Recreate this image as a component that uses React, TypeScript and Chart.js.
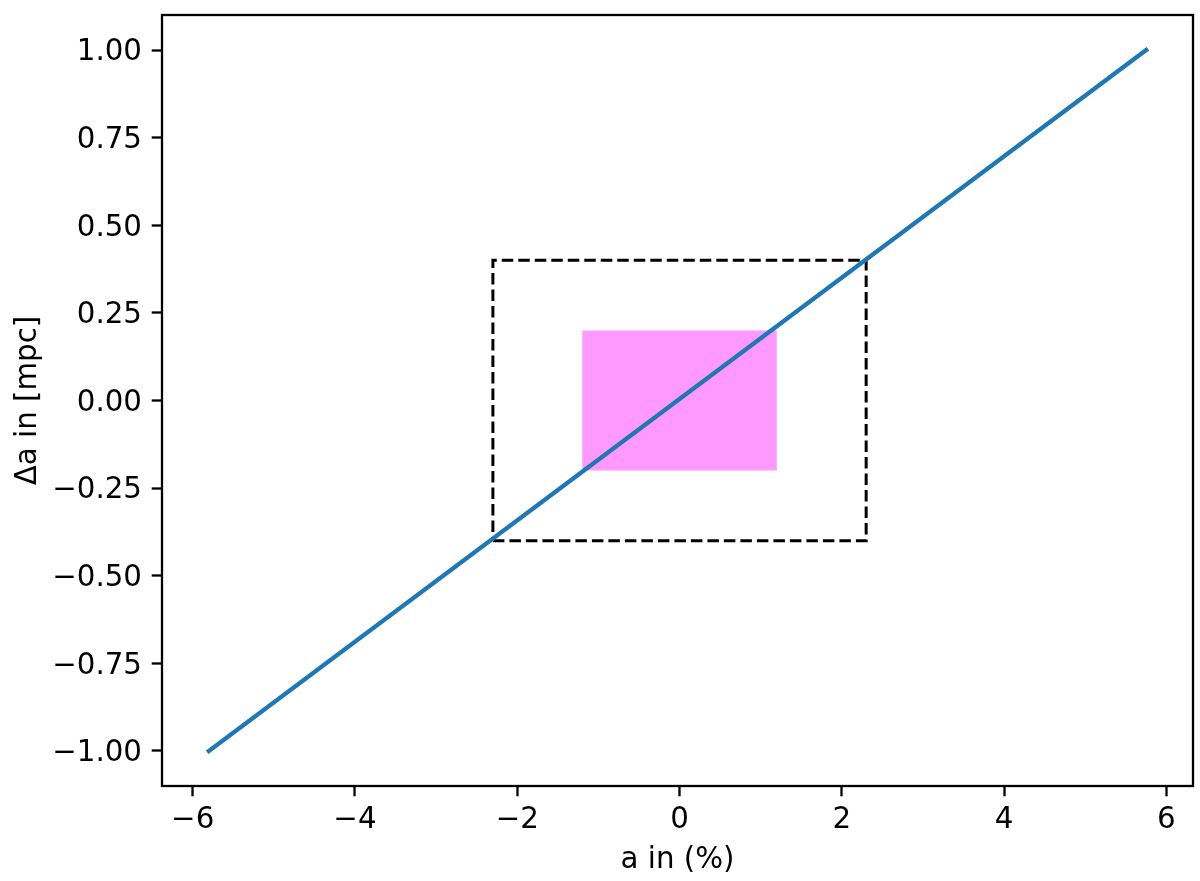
import React, { useEffect, useRef } from "react";
import { Chart, registerables } from "chart.js";

Chart.register(...registerables);

// ---- data ----
const xTicks = [-6, -4, -2, 0, 2, 4, 6];
const xTickLabels = ["−6", "−4", "−2", "0", "2", "4", "6"];
const yTicks = [-1, -0.75, -0.5, -0.25, 0, 0.25, 0.5, 0.75, 1];
const yTickLabels = ["−1.00", "−0.75", "−0.50", "−0.25", "0.00", "0.25", "0.50", "0.75", "1.00"];

const lineX = [-5.8, 5.75];
const lineY = [-1, 1];

const outerBoxX = [-2.3, 2.3, 2.3, -2.3, -2.3];
const outerBoxY = [-0.4, -0.4, 0.4, 0.4, -0.4];

const innerBoxX = [-1.2, 1.2];
const innerBoxTop = [0.2, 0.2];
const innerBoxBottom = -0.2;

const xRange = [-6.378, 6.328];
const yRange = [-1.1, 1.1];

const xTitle = "a in (%)";
const yTitle = "Δa in [mpc]";

const FONT = "'DejaVu Sans', sans-serif";
const FS = 29.3;

const spinesPlugin = {
  id: "spines",
  afterDraw(chart: any) {
    const { ctx, chartArea } = chart;
    ctx.save();
    ctx.strokeStyle = "#000";
    ctx.lineWidth = 2.3;
    ctx.strokeRect(chartArea.left, chartArea.top, chartArea.right - chartArea.left, chartArea.bottom - chartArea.top);
    ctx.restore();
  },
};

const zip = (xs: number[], ys: number[]) => xs.map((x, i) => ({ x, y: ys[i] }));

export default function App() {
  const ref = useRef<HTMLCanvasElement | null>(null);
  useEffect(() => {
    if (!ref.current) return;
    const chart = new Chart(ref.current, {
      type: "scatter",
      data: {
        datasets: [
          {
            data: zip(lineX, lineY),
            showLine: true,
            borderColor: "#1f77b4",
            borderWidth: 4.4,
            borderCapStyle: "square",
            pointRadius: 0,
            fill: false,
            order: 0,
          },
          {
            data: zip(outerBoxX, outerBoxY),
            showLine: true,
            borderColor: "#000000",
            borderWidth: 3,
            borderDash: [11.5, 5],
            pointRadius: 0,
            fill: false,
            order: 1,
          },
          {
            data: zip(innerBoxX, innerBoxTop),
            showLine: true,
            borderColor: "rgba(0,0,0,0)",
            borderWidth: 0,
            backgroundColor: "rgba(255,0,255,0.4)",
            fill: { value: innerBoxBottom },
            pointRadius: 0,
            order: 2,
          },
        ] as any,
      },
      options: {
        animation: false,
        responsive: false,
        maintainAspectRatio: false,
        devicePixelRatio: 1,
        events: [],
        layout: { padding: { top: 15, right: 7, left: 0, bottom: 0 } },
        plugins: { legend: { display: false }, tooltip: { enabled: false } },
        scales: {
          x: {
            type: "linear",
            position: "bottom",
            min: xRange[0],
            max: xRange[1],
            afterBuildTicks: (axis: any) => {
              axis.ticks = xTicks.map((v) => ({ value: v }));
            },
            afterFit: (s: any) => {
              s.height = 95;
              s.paddingLeft = 0;
              s.paddingRight = 0;
            },
            grid: {
              drawOnChartArea: false,
              drawTicks: true,
              tickLength: 10.3,
              tickWidth: 2.3,
              tickColor: "#000",
            },
            border: { display: false },
            ticks: {
              autoSkip: false,
              maxRotation: 0,
              padding: 6.1,
              color: "#000",
              font: { family: FONT, size: FS },
              callback: (_v: any, i: number) => xTickLabels[i],
            },
            title: {
              display: true,
              text: xTitle,
              color: "#000",
              font: { family: FONT, size: FS },
              padding: { top: 0, bottom: 3.4 },
            },
          },
          y: {
            type: "linear",
            min: yRange[0],
            max: yRange[1],
            afterBuildTicks: (axis: any) => {
              axis.ticks = yTicks.map((v) => ({ value: v }));
            },
            afterFit: (s: any) => {
              s.width = 162;
              s.paddingTop = 0;
              s.paddingBottom = 0;
            },
            grid: {
              drawOnChartArea: false,
              drawTicks: true,
              tickLength: 10.3,
              tickWidth: 2.3,
              tickColor: "#000",
            },
            border: { display: false },
            ticks: {
              autoSkip: false,
              padding: 9.7,
              labelOffset: 2.7,
              color: "#000",
              font: { family: FONT, size: FS },
              callback: (_v: any, i: number) => yTickLabels[i],
            },
            title: {
              display: true,
              text: yTitle,
              color: "#000",
              font: { family: FONT, size: FS },
              padding: { top: 10.4, bottom: 0 },
            },
          },
        },
      } as any,
      plugins: [spinesPlugin],
    });
    return () => chart.destroy();
  }, []);

  return (
    <div style={{ position: "fixed", left: 0, top: 0, width: 1200, height: 881, background: "#fff" }}>
      <canvas ref={ref} width={1200} height={881} style={{ width: 1200, height: 881, display: "block" }} />
    </div>
  );
}
